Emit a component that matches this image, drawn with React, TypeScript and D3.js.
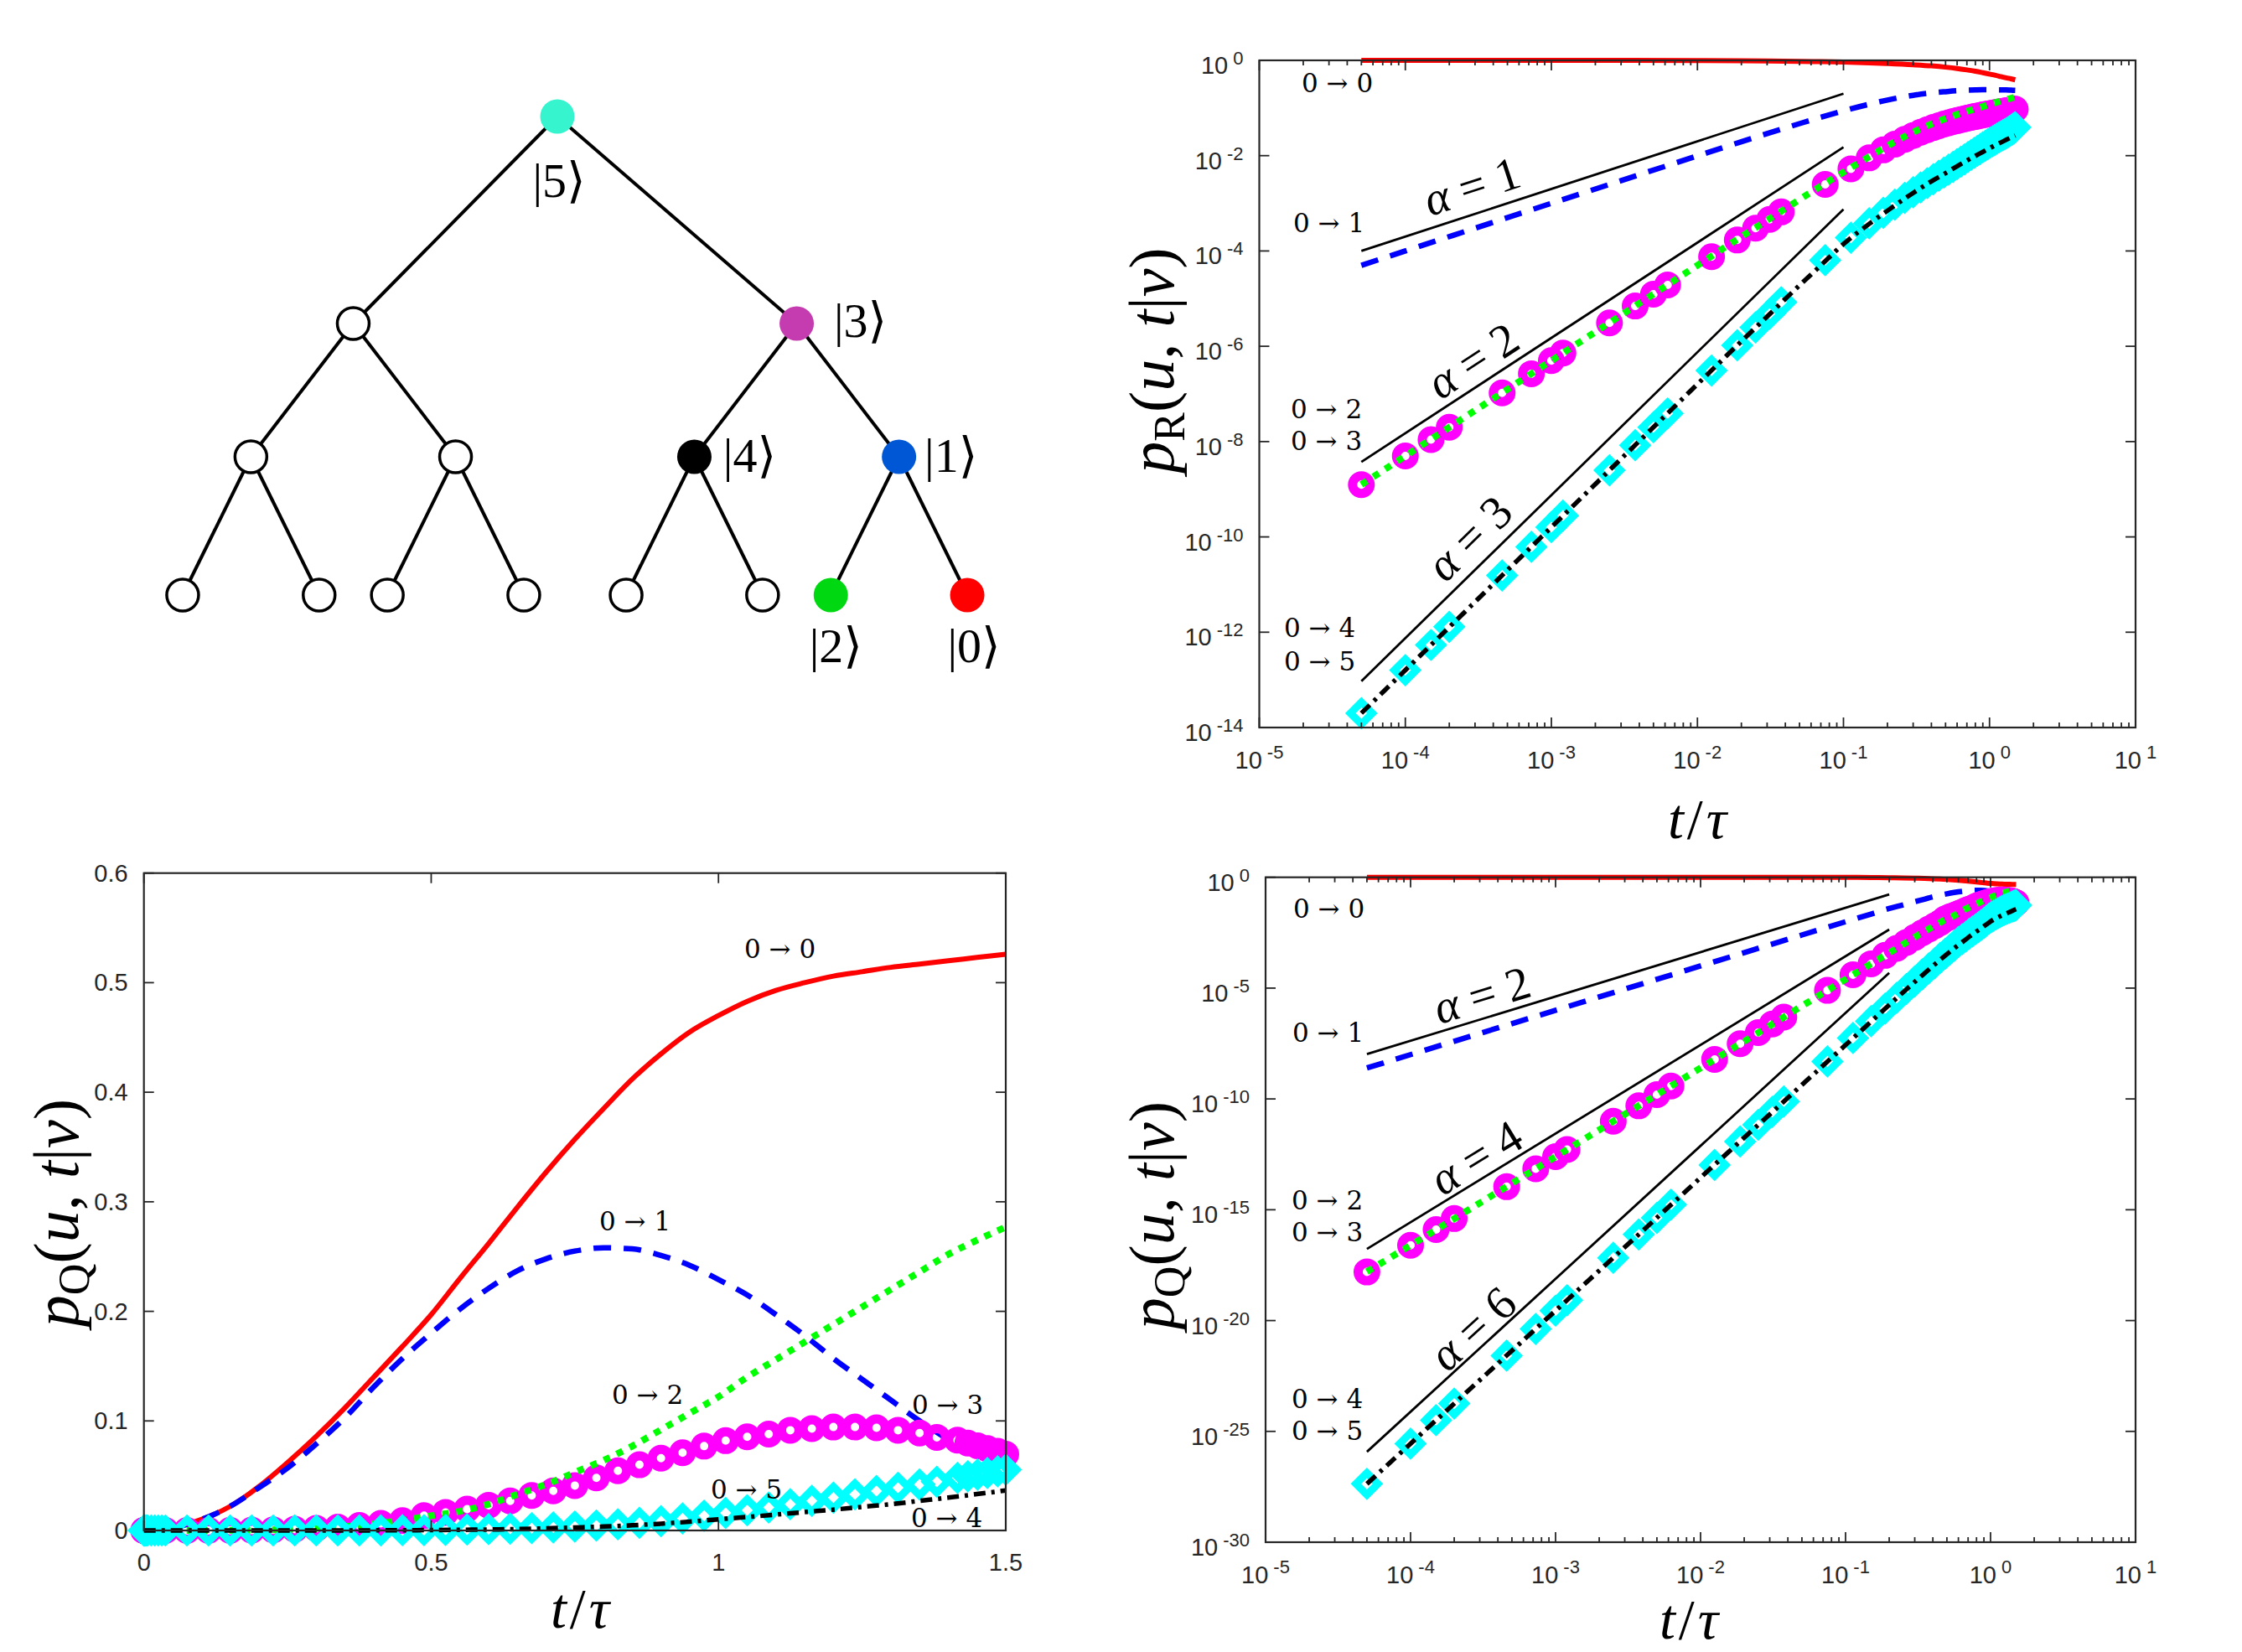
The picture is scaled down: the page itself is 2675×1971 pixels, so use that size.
import * as d3 from "d3";

type Pt = [number, number];

// ---------------- data ----------------

// tree: node names are the state labels, "" = unlabeled node
const treeData = {
  id: "5",
  children: [
    {
      id: "",
      children: [
        { id: "", children: [{ id: "" }, { id: "" }] },
        { id: "", children: [{ id: "" }, { id: "" }] },
      ],
    },
    {
      id: "3",
      children: [
        { id: "4", children: [{ id: "" }, { id: "" }] },
        { id: "1", children: [{ id: "2" }, { id: "0" }] },
      ],
    },
  ],
};
const nodeColor: Record<string, string> = {
  "5": "#36f5ce",
  "3": "#c43caf",
  "4": "#000000",
  "1": "#0057d6",
  "2": "#00d812",
  "0": "#ff0000",
};

// marker sample times (shared by the three panels)
const markT = [
  5e-5, 1e-4, 1.5e-4, 2e-4, 4.6e-4, 7.3e-4, 1e-3, 1.2e-3, 2.5e-3, 3.75e-3, 5e-3, 6.25e-3, 0.0125, 0.01875, 0.025, 0.03125,
  0.0375, 0.075, 0.1125, 0.15, 0.1875, 0.225, 0.2625, 0.3, 0.3375, 0.375, 0.4125, 0.45, 0.4875, 0.525, 0.5625, 0.6,
  0.6375, 0.675, 0.7125, 0.75, 0.7875, 0.825, 0.8625, 0.9, 0.9375, 0.975, 1.0125, 1.05, 1.0875, 1.125, 1.1625, 1.2,
  1.2375, 1.275, 1.3125, 1.35, 1.38, 1.416, 1.434, 1.451, 1.468, 1.486, 1.5,
];

// classical walk p_R, markers
const pR03 = [
  1.25e-9, 5e-9, 1.1e-8, 2e-8, 1.05e-7, 2.65e-7, 5e-7, 7.2e-7, 3.1e-6, 7e-6, 1.24e-5, 1.93e-5, 7.6e-5, 1.7e-4, 3e-4, 4.6e-4,
  6.6e-4, 2.5e-3, 5.3e-3, 9e-3, 0.0132, 0.0175, 0.022, 0.0265, 0.031, 0.0352, 0.039, 0.0425, 0.046, 0.049, 0.052, 0.0545,
  0.057, 0.0595, 0.062, 0.064, 0.066, 0.068, 0.07, 0.0718, 0.0735, 0.075, 0.0765, 0.078, 0.0795, 0.081, 0.0825, 0.084,
  0.0852, 0.0865, 0.0877, 0.089, 0.09, 0.091, 0.0918, 0.0925, 0.0932, 0.094, 0.0945,
];
const pR05 = [
  2e-14, 1.6e-13, 5.4e-13, 1.3e-12, 1.55e-11, 6.2e-11, 1.6e-10, 2.8e-10, 2.5e-9, 8.4e-9, 2e-8, 3.9e-8, 3.1e-7, 1.05e-6, 2.5e-6, 4.8e-6,
  8.4e-6, 6.4e-5, 1.9e-4, 3.8e-4, 6.3e-4, 9.4e-4, 1.3e-3, 1.7e-3, 2.15e-3, 2.65e-3, 3.2e-3, 3.8e-3, 4.4e-3, 5.1e-3, 5.8e-3, 6.6e-3,
  7.5e-3, 8.4e-3, 9.4e-3, 0.0104, 0.0115, 0.0126, 0.0138, 0.015, 0.0162, 0.0175, 0.0188, 0.02, 0.0214, 0.0228, 0.0242, 0.0256,
  0.027, 0.0285, 0.03, 0.0316, 0.033, 0.0348, 0.0357, 0.0366, 0.0375, 0.0385, 0.0395,
];

// classical walk p_R, lines
const rCurveT = [5e-5, 1e-4, 1e-3, 0.01, 0.02, 0.03, 0.05, 0.07, 0.1, 0.15, 0.2, 0.3, 0.4, 0.5, 0.6, 0.7, 0.8, 0.9, 1.0, 1.1, 1.2, 1.3, 1.4, 1.5];
const pR00 = [1, 1, 0.999, 0.99, 0.981, 0.972, 0.955, 0.94, 0.92, 0.89, 0.86, 0.81, 0.765, 0.72, 0.675, 0.63, 0.59, 0.55, 0.515, 0.485, 0.455, 0.43, 0.41, 0.39];
const pR01 = [5e-5, 1e-4, 1e-3, 9.9e-3, 0.0196, 0.029, 0.047, 0.064, 0.087, 0.12, 0.147, 0.185, 0.207, 0.22, 0.23, 0.236, 0.24, 0.242, 0.242, 0.241, 0.24, 0.239, 0.237, 0.235];
const pR02 = [1.25e-9, 5e-9, 5e-7, 5e-5, 2e-4, 4.4e-4, 1.2e-3, 2.3e-3, 4.5e-3, 9.5e-3, 0.016, 0.031, 0.046, 0.06, 0.073, 0.085, 0.096, 0.107, 0.119, 0.13, 0.14, 0.15, 0.16, 0.17];
const pR04 = [2e-14, 1.6e-13, 1.6e-10, 1.6e-7, 1.27e-6, 4.2e-6, 1.9e-5, 5e-5, 1.4e-4, 3.7e-4, 7e-4, 1.65e-3, 2.9e-3, 4.3e-3, 6e-3, 7.9e-3, 9.9e-3, 0.012, 0.0143, 0.0167, 0.019, 0.0215, 0.024, 0.0265];

// quantum walk p_Q, markers
const pQ03 = [
  1.56e-18, 2.5e-17, 1.27e-16, 4e-16, 1.1e-14, 7.1e-14, 2.5e-13, 5.2e-13, 9.8e-12, 4.9e-11, 1.56e-10, 3.8e-10, 6.1e-9, 3.1e-8, 9.8e-8, 2.4e-7,
  4.9e-7, 7.9e-6, 4e-5, 1.25e-4, 3e-4, 6.2e-4, 1.15e-3, 1.95e-3, 3.1e-3, 4.6e-3, 6.5e-3, 9e-3, 0.0135, 0.0165, 0.0195, 0.023,
  0.027, 0.032, 0.0362, 0.041, 0.048, 0.0545, 0.06, 0.066, 0.071, 0.077, 0.082, 0.0855, 0.088, 0.0915, 0.093, 0.0944,
  0.0944, 0.0937, 0.0915, 0.089, 0.085, 0.0824, 0.0798, 0.0773, 0.0747, 0.0722, 0.0696,
];
const pQ05 = [
  4.3e-28, 2.8e-26, 3.2e-25, 1.8e-24, 2.6e-22, 4.2e-21, 2.8e-20, 8.3e-20, 6.8e-18, 7.7e-17, 4.3e-16, 1.7e-15, 1.05e-13, 1.2e-12, 6.8e-12, 2.6e-11,
  7.7e-11, 4.9e-9, 5.6e-8, 3.2e-7, 1.2e-6, 3.6e-6, 9.1e-6, 2e-5, 4.1e-5, 7.7e-5, 1.35e-4, 2.3e-4, 3.6e-4, 5.5e-4, 8.2e-4, 1.2e-3,
  1.6e-3, 2.1e-3, 2.8e-3, 3.6e-3, 4.5e-3, 5.6e-3, 7e-3, 8.5e-3, 0.011, 0.0135, 0.016, 0.0185, 0.021, 0.024, 0.027, 0.03,
  0.033, 0.036, 0.039, 0.042, 0.0445, 0.048, 0.0495, 0.051, 0.0525, 0.054, 0.0555,
];

// quantum walk p_Q, lines
const qCurveT = [5e-5, 1e-4, 1e-3, 0.01, 0.02, 0.03, 0.05, 0.1, 0.15, 0.2, 0.25, 0.3, 0.35, 0.4, 0.45, 0.5, 0.55, 0.6, 0.65, 0.7, 0.75, 0.8, 0.85, 0.9, 0.95, 1.0, 1.05, 1.1, 1.15, 1.2, 1.25, 1.3, 1.35, 1.4, 1.45, 1.5];
const pQ00lin = [2.5e-9, 1e-8, 1e-6, 1e-4, 4e-4, 9e-4, 0.0025, 0.01, 0.022, 0.04, 0.062, 0.086, 0.112, 0.14, 0.168, 0.197, 0.23, 0.262, 0.295, 0.327, 0.357, 0.385, 0.412, 0.435, 0.455, 0.47, 0.483, 0.493, 0.5, 0.506, 0.51, 0.514, 0.517, 0.52, 0.523, 0.526];
const pQ00log = [1, 1, 1, 0.9999, 0.9996, 0.9991, 0.9975, 0.99, 0.978, 0.96, 0.938, 0.914, 0.888, 0.86, 0.832, 0.803, 0.77, 0.738, 0.705, 0.673, 0.643, 0.615, 0.588, 0.565, 0.545, 0.53, 0.517, 0.507, 0.5, 0.494, 0.49, 0.486, 0.483, 0.48, 0.477, 0.474];
const pQ01 = [2.5e-9, 1e-8, 1e-6, 1e-4, 4e-4, 9e-4, 0.0025, 0.0099, 0.022, 0.039, 0.057, 0.079, 0.103, 0.131, 0.157, 0.18, 0.202, 0.221, 0.237, 0.248, 0.255, 0.258, 0.257, 0.251, 0.242, 0.229, 0.215, 0.197, 0.178, 0.157, 0.138, 0.119, 0.1, 0.083, 0.067, 0.053];
const pQ02 = [1.6e-18, 2.5e-17, 2.5e-13, 2.5e-9, 4e-8, 2e-7, 1.56e-6, 2.5e-5, 1.25e-4, 3.9e-4, 9.5e-4, 2e-3, 3.6e-3, 6e-3, 9.2e-3, 0.0135, 0.0175, 0.024, 0.033, 0.042, 0.053, 0.064, 0.077, 0.092, 0.107, 0.122, 0.14, 0.156, 0.172, 0.188, 0.204, 0.22, 0.236, 0.252, 0.265, 0.277];
const pQ04 = [4.3e-28, 2.8e-26, 2.8e-20, 2.8e-14, 1.8e-12, 2e-11, 4.3e-10, 2.7e-8, 3.1e-7, 1.75e-6, 6.6e-6, 1.9e-5, 4.6e-5, 1e-4, 1.9e-4, 3.4e-4, 5.6e-4, 8.8e-4, 1.3e-3, 1.9e-3, 2.7e-3, 3.6e-3, 4.7e-3, 6.2e-3, 8e-3, 0.0102, 0.0123, 0.0145, 0.0168, 0.019, 0.0215, 0.024, 0.027, 0.03, 0.0332, 0.0365];

// power-law guide lines t^alpha: [t0, t1], [v0, v1]
const refRAlpha = ["1", "2", "3"];
const refRT = [5e-5, 0.1];
const refRV = [[1e-4, 0.2], [3.75e-9, 0.015], [9.4e-14, 7.5e-4]];
const refQAlpha = ["2", "4", "6"];
const refQT = [5e-5, 0.2];
const refQV = [[1.05e-8, 0.168], [1.7e-17, 4.4e-3], [1.2e-26, 4.9e-5]];

// ticks
const logXExps = [-5, -4, -3, -2, -1, 0, 1];
const trYExps = [0, -2, -4, -6, -8, -10, -12, -14];
const brYExps = [0, -5, -10, -15, -20, -25, -30];
const blXTicks = [0, 0.5, 1, 1.5];
const blYTicks = [0, 0.1, 0.2, 0.3, 0.4, 0.5, 0.6];

// ---------------- layout ----------------
const W = 2675;
const H = 1971;
const TR = { left: 1502.5, right: 2548, top: 72, bottom: 868 };
const BR = { left: 1510, right: 2548, top: 1046.7, bottom: 1840 };
const BL = { left: 171.7, right: 1200, top: 1041.7, bottom: 1826 };
type Box = typeof TR;

const AX = "#262626";
const SANS = "'Liberation Sans', Arial, Helvetica, sans-serif";
const SERIF = "'Liberation Serif', 'DejaVu Serif', serif";

const zip = (t: number[], v: number[]) => t.map((x, i) => [x, v[i]] as Pt);

function LogXAxis({ x, b }: { x: any; b: Box }) {
  const els: any[] = [];
  logXExps.forEach((e, i) => {
    const px = x(10 ** e);
    els.push(<line key={`b${e}`} x1={px} x2={px} y1={b.bottom} y2={b.bottom - 12} />);
    els.push(<line key={`t${e}`} x1={px} x2={px} y1={b.top} y2={b.top + 12} />);
    if (i < logXExps.length - 1) {
      for (let k = 2; k <= 9; k++) {
        const m = x(k * 10 ** e);
        els.push(<line key={`mb${e}${k}`} x1={m} x2={m} y1={b.bottom} y2={b.bottom - 6} />);
        els.push(<line key={`mt${e}${k}`} x1={m} x2={m} y1={b.top} y2={b.top + 6} />);
      }
    }
  });
  return (
    <g>
      <g stroke={AX} strokeWidth={1.8}>{els}</g>
      {logXExps.map((e) => (
        <text key={e} x={x(10 ** e)} y={b.bottom + 49} textAnchor="middle" fontFamily={SANS} fontSize={29} fill={AX}>
          <tspan>10</tspan>
          <tspan dx={6} dy={-12} fontSize={22}>{e}</tspan>
        </text>
      ))}
    </g>
  );
}

function LogYAxis({ y, b, exps }: { y: any; b: Box; exps: number[] }) {
  return (
    <g>
      <g stroke={AX} strokeWidth={1.8}>
        {exps.map((e) => (
          <g key={e}>
            <line x1={b.left} x2={b.left + 12} y1={y(10 ** e)} y2={y(10 ** e)} />
            <line x1={b.right} x2={b.right - 12} y1={y(10 ** e)} y2={y(10 ** e)} />
          </g>
        ))}
      </g>
      {exps.map((e) => (
        <text key={e} x={b.left - 19} y={y(10 ** e) + 16} textAnchor="end" fontFamily={SANS} fontSize={29} fill={AX}>
          <tspan>10</tspan>
          <tspan dx={6} dy={-11} fontSize={22}>{e}</tspan>
        </text>
      ))}
    </g>
  );
}

function Frame({ b }: { b: Box }) {
  return <rect x={b.left} y={b.top} width={b.right - b.left} height={b.bottom - b.top} fill="none" stroke={AX} strokeWidth={2.2} />;
}

function Circles({ pts, x, y }: { pts: Pt[]; x: any; y: any }) {
  return (
    <g fill="none" stroke="#ff00ff" strokeWidth={11}>
      {pts.map((p, i) => <circle key={i} cx={x(p[0])} cy={y(p[1])} r={10.5} />)}
    </g>
  );
}

function Diamonds({ pts, x, y }: { pts: Pt[]; x: any; y: any }) {
  const h = 13;
  return (
    <g fill="none" stroke="#00ffff" strokeWidth={9} strokeLinejoin="miter">
      {pts.map((p, i) => {
        const cx = x(p[0]);
        const cy = y(p[1]);
        return <path key={i} d={`M${cx},${cy - h}L${cx + h},${cy}L${cx},${cy + h}L${cx - h},${cy}Z`} />;
      })}
    </g>
  );
}

function Curves({ x, y, red, blue, green, black, circ, diam }: any) {
  const ln = d3.line<Pt>().x((d) => x(d[0])).y((d) => y(d[1])).curve(d3.curveMonotoneX);
  return (
    <g fill="none">
      <path d={ln(red) ?? ""} stroke="#ff0000" strokeWidth={6} />
      <path d={ln(blue) ?? ""} stroke="#0000ff" strokeWidth={6.5} strokeDasharray="21 15" />
      <Circles pts={circ} x={x} y={y} />
      <path d={ln(green) ?? ""} stroke="#00ff00" strokeWidth={8} strokeDasharray="8 9" />
      <Diamonds pts={diam} x={x} y={y} />
      <path d={ln(black) ?? ""} stroke="#000000" strokeWidth={5.5} strokeDasharray="14 7 4 7" />
    </g>
  );
}

function Guides({ x, y, t, vs, alphas, centers }: any) {
  return (
    <g>
      {vs.map((v: number[], i: number) => {
        const x0 = x(t[0]);
        const x1 = x(t[1]);
        const y0 = y(v[0]);
        const y1 = y(v[1]);
        const ang = (Math.atan2(y0 - y1, x1 - x0) * 180) / Math.PI;
        const [cx, cy] = centers[i];
        return (
          <g key={i}>
            <line x1={x0} y1={y0} x2={x1} y2={y1} stroke="#000" strokeWidth={2.8} />
            <text
              transform={`translate(${cx},${cy}) rotate(${-ang})`}
              textAnchor="middle"
              dominantBaseline="central"
              fontFamily={SERIF}
              fontSize={56}
              fill="#000"
            >
              <tspan fontStyle="italic">α</tspan> = {alphas[i]}
            </text>
          </g>
        );
      })}
    </g>
  );
}

function Arrows({ items }: { items: [string, number, number][] }) {
  return (
    <g fontFamily="'DejaVu Serif', serif" fontSize={31} fill="#000">
      {items.map(([s, px, py]) => (
        <text key={s + px + py} x={px} y={py}>{`0 → ${s}`}</text>
      ))}
    </g>
  );
}

function YLabel({ x, y, sub }: { x: number; y: number; sub: string }) {
  return (
    <text transform={`translate(${x},${y}) rotate(-90)`} textAnchor="middle" fontFamily={SERIF} fontSize={76} fill="#000">
      <tspan fontStyle="italic">p</tspan>
      <tspan fontSize={52} dy={13}>{sub}</tspan>
      <tspan dy={-13}>(</tspan>
      <tspan fontStyle="italic">u</tspan>
      <tspan>, </tspan>
      <tspan fontStyle="italic">t</tspan>
      <tspan>|</tspan>
      <tspan fontStyle="italic">v</tspan>
      <tspan>)</tspan>
    </text>
  );
}

function XLabel({ x, y }: { x: number; y: number }) {
  return (
    <text x={x} y={y} textAnchor="middle" fontFamily={SERIF} fontSize={68} fill="#000">
      <tspan fontStyle="italic">t</tspan>
      <tspan dx={4}>/</tspan>
      <tspan dx={4} fontStyle="italic">τ</tspan>
    </text>
  );
}

function Tree() {
  const root = d3.hierarchy<any>(treeData);
  d3
    .tree<any>()
    .nodeSize([81.4, 1])
    .separation((a, b) => (a.parent === b.parent ? 2 : a.parent?.parent === b.parent?.parent ? 1 : 1.5))(root);
  const depthY = [139, 386, 545, 710];
  const px = (d: any) => 686 + (d.x as number) + (d.depth === 0 ? -21 : 0);
  const py = (d: any) => depthY[d.depth];
  const nodes = root.descendants();
  const labelOff: Record<string, [number, number]> = {
    "5": [2, 96],
    "3": [76, 16],
    "4": [66, 18],
    "1": [62, 18],
    "2": [6, 80],
    "0": [8, 80],
  };
  return (
    <g>
      <g stroke="#000" strokeWidth={4}>
        {root.links().map((l, i) => (
          <line key={i} x1={px(l.source)} y1={py(l.source)} x2={px(l.target)} y2={py(l.target)} />
        ))}
      </g>
      {nodes.map((d, i) =>
        d.data.id === "" ? (
          <circle key={i} cx={px(d)} cy={py(d)} r={19} fill="#fff" stroke="#000" strokeWidth={3.5} />
        ) : (
          <circle key={i} cx={px(d)} cy={py(d)} r={20.5} fill={nodeColor[d.data.id]} />
        )
      )}
      {nodes
        .filter((d) => d.data.id !== "")
        .map((d, i) => (
          <text
            key={i}
            x={px(d) + labelOff[d.data.id][0]}
            y={py(d) + labelOff[d.data.id][1]}
            textAnchor="middle"
            fontFamily={SERIF}
            fontSize={58}
            fill="#000"
          >
            {`|${d.data.id}⟩`}
          </text>
        ))}
    </g>
  );
}

export default function App() {
  const trX = d3.scaleLog().domain([1e-5, 10]).range([TR.left, TR.right]);
  const trY = d3.scaleLog().domain([1e-14, 1]).range([TR.bottom, TR.top]);
  const brX = d3.scaleLog().domain([1e-5, 10]).range([BR.left, BR.right]);
  const brY = d3.scaleLog().domain([1e-30, 1]).range([BR.bottom, BR.top]);
  const blX = d3.scaleLinear().domain([0, 1.5]).range([BL.left, BL.right]);
  const blY = d3.scaleLinear().domain([0, 0.6]).range([BL.bottom, BL.top]);
  const fmt = d3.format("~g");

  return (
    <svg
      width={W}
      height={H}
      viewBox={`0 0 ${W} ${H}`}
      style={{ position: "absolute", left: 0, top: 0, background: "#fff" }}
    >
      <rect width={W} height={H} fill="#fff" />
      <Tree />

      {/* top right: classical */}
      <Guides x={trX} y={trY} t={refRT} vs={refRV} alphas={refRAlpha} centers={[[1756, 222], [1757, 430], [1753, 642]]} />
      <Curves
        x={trX}
        y={trY}
        red={zip(rCurveT, pR00)}
        blue={zip(rCurveT, pR01)}
        green={zip(rCurveT, pR02)}
        black={zip(rCurveT, pR04)}
        circ={zip(markT, pR03)}
        diam={zip(markT, pR05)}
      />
      <Arrows items={[["0", 1553, 110], ["1", 1543, 277], ["2", 1540, 499], ["3", 1540, 537], ["4", 1532, 760], ["5", 1532, 800]]} />
      <Frame b={TR} />
      <LogXAxis x={trX} b={TR} />
      <LogYAxis y={trY} b={TR} exps={trYExps} />
      <YLabel x={1400} y={430} sub="R" />
      <XLabel x={2025} y={1000} />

      {/* bottom right: quantum, log */}
      <Guides x={brX} y={brY} t={refQT} vs={refQV} alphas={refQAlpha} centers={[[1768, 1187], [1761, 1381], [1757, 1585]]} />
      <Curves
        x={brX}
        y={brY}
        red={zip(qCurveT, pQ00log)}
        blue={zip(qCurveT, pQ01)}
        green={zip(qCurveT, pQ02)}
        black={zip(qCurveT, pQ04)}
        circ={zip(markT, pQ03)}
        diam={zip(markT, pQ05)}
      />
      <Arrows items={[["0", 1543, 1095], ["1", 1542, 1243], ["2", 1541, 1443], ["3", 1541, 1481], ["4", 1541, 1680], ["5", 1541, 1718]]} />
      <Frame b={BR} />
      <LogXAxis x={brX} b={BR} />
      <LogYAxis y={brY} b={BR} exps={brYExps} />
      <YLabel x={1400} y={1450} sub="Q" />
      <XLabel x={2015} y={1955} />

      {/* bottom left: quantum, linear */}
      <Curves
        x={blX}
        y={blY}
        red={zip(qCurveT, pQ00lin)}
        blue={zip(qCurveT, pQ01)}
        green={zip(qCurveT, pQ02)}
        black={zip(qCurveT, pQ04)}
        circ={zip(markT, pQ03)}
        diam={zip(markT, pQ05)}
      />
      <Arrows items={[["0", 888, 1143], ["1", 715, 1468], ["2", 730, 1675], ["3", 1088, 1687], ["5", 848, 1788], ["4", 1087, 1822]]} />
      <Frame b={BL} />
      <g stroke={AX} strokeWidth={1.8}>
        {blXTicks.map((v) => (
          <g key={v}>
            <line x1={blX(v)} x2={blX(v)} y1={BL.bottom} y2={BL.bottom - 12} />
            <line x1={blX(v)} x2={blX(v)} y1={BL.top} y2={BL.top + 12} />
          </g>
        ))}
        {blYTicks.map((v) => (
          <g key={v}>
            <line x1={BL.left} x2={BL.left + 12} y1={blY(v)} y2={blY(v)} />
            <line x1={BL.right} x2={BL.right - 12} y1={blY(v)} y2={blY(v)} />
          </g>
        ))}
      </g>
      <g fontFamily={SANS} fontSize={29} fill={AX}>
        {blXTicks.map((v) => (
          <text key={v} x={blX(v)} y={BL.bottom + 48} textAnchor="middle">{fmt(v)}</text>
        ))}
        {blYTicks.map((v) => (
          <text key={v} x={BL.left - 19} y={blY(v) + 10} textAnchor="end">{fmt(v)}</text>
        ))}
      </g>
      <YLabel x={93} y={1447} sub="Q" />
      <XLabel x={692} y={1942} />
    </svg>
  );
}
